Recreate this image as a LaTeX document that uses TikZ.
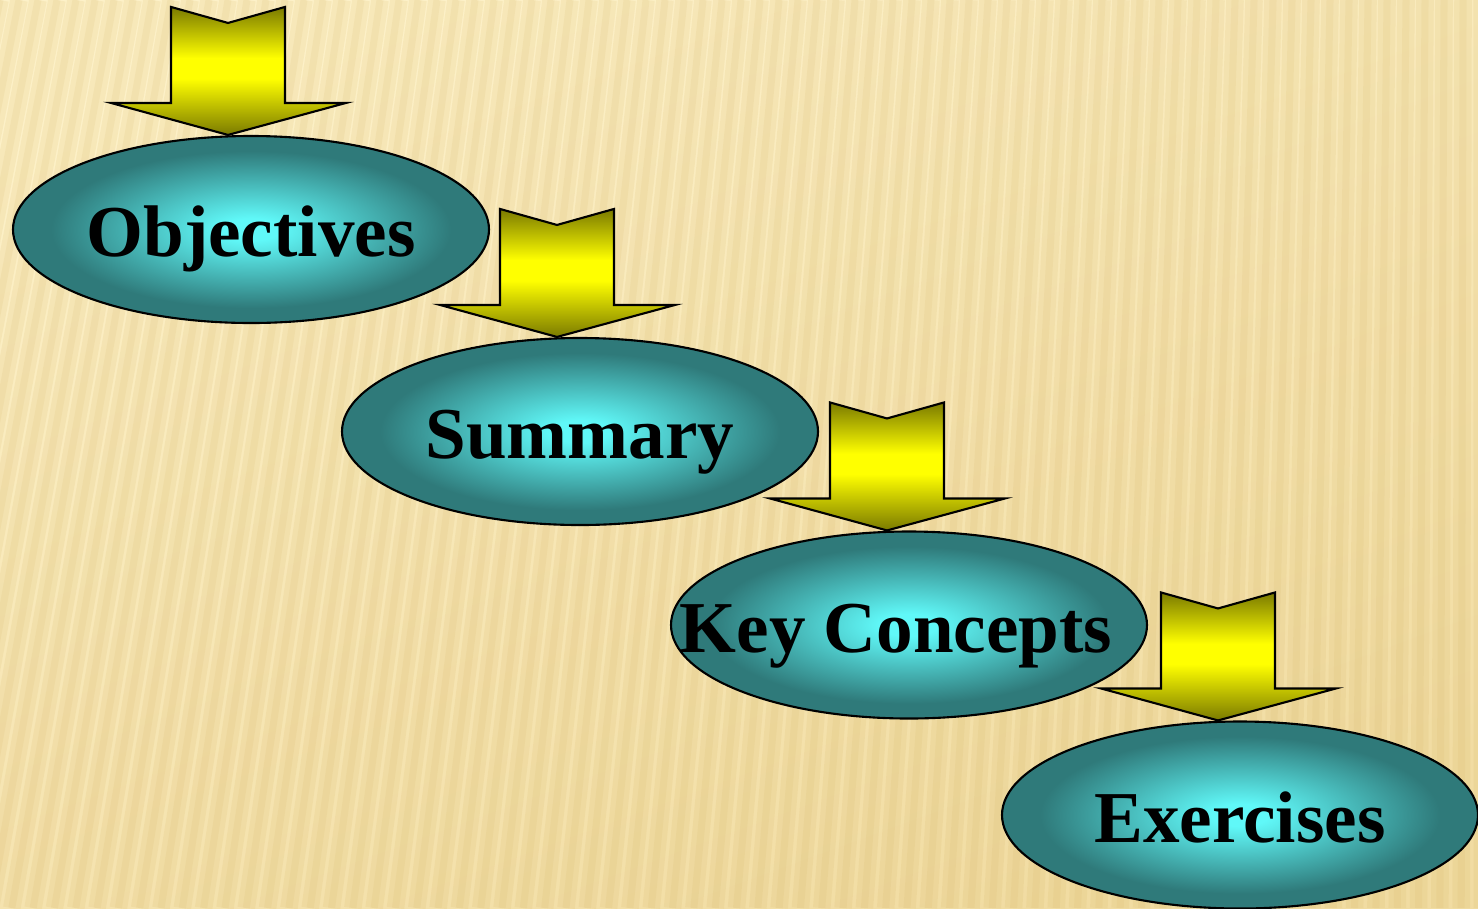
\documentclass[tikz,border=0pt]{standalone}
\usepackage{fontspec}
\setmainfont{Liberation Serif}
\usetikzlibrary{shapes.geometric}

\definecolor{glowin}{HTML}{60F8F8}
\definecolor{glowout}{HTML}{2F7A7A}
\definecolor{olivedark}{HTML}{7A7A00}
\definecolor{sunyellow}{HTML}{FFFF00}
\definecolor{paper}{HTML}{FDF1C8}
\definecolor{paperdark}{HTML}{F1DCA2}
\definecolor{stripe}{HTML}{D4B262}

\pgfdeclareradialshading{tealglow}{\pgfpoint{0bp}{0bp}}{color(0bp)=(glowin); color(3bp)=(glowin); color(21bp)=(glowout); color(25bp)=(glowout); color(50bp)=(glowout)}
\pgfdeclareverticalshading{arrowglow}{100bp}{color(0bp)=(olivedark); color(25bp)=(olivedark); color(47bp)=(sunyellow); color(55bp)=(sunyellow); color(75bp)=(olivedark); color(100bp)=(olivedark)}

\tikzset{
    stage/.style={ellipse, draw=black, line width=0.6pt, shading=tealglow,
        minimum width=4.76cm, minimum height=1.87cm, inner sep=0pt,
        font=\fontsize{20.8}{24}\selectfont\bfseries,
        text height=0.54cm, text depth=0pt},
    downarrow/.pic={
        \shade [draw=black, line width=0.6pt, shading=arrowglow]
            (0,0) -- (-1.17,0.32) -- (-0.57,0.32) -- (-0.57,1.28)
            -- (0,1.12) -- (0.57,1.28) -- (0.57,0.32) -- (1.18,0.32) -- cycle;
    }
}

\begin{document}
\begin{tikzpicture}
    \useasboundingbox (0,0) rectangle (14.78,9.08);

    % striped paper
    \begin{scope}
        \clip (0,0) rectangle (14.78,9.08);
        \shade [top color=paper, bottom color=paperdark, shading angle=20]
            (0,0) rectangle (14.78,9.08);
        \foreach \i in {-10,...,80} {
            \pgfmathsetmacro{\xt}{\i*0.19}
            \pgfmathsetmacro{\xb}{\xt-1.8*(1-\xt/14.78)}
            \draw [stripe, opacity=0.14, line width=5pt] (\xb,0) -- (\xt,9.08);
            \draw [stripe, opacity=0.12, line width=2pt] (\xb,0) -- (\xt,9.08);
        }
    \end{scope}

    \node [stage] (obj) at (2.51,6.785) {Objectives};
    \node [stage] (sum) at (5.80,4.765) {Summary};
    \node [stage] (kc) at (9.09,2.83) {\makebox[0pt]{Key Concepts\hspace{0.26cm}}};
    \node [stage] (ex) at (12.40,0.93) {Exercises};

    \path (obj.north) ++(-0.23,0) pic {downarrow};
    \path (sum.north) ++(-0.23,0) pic {downarrow};
    \path (kc.north) ++(-0.22,0) pic {downarrow};
    \path (ex.north) ++(-0.22,0) pic {downarrow};
\end{tikzpicture}
\end{document}
